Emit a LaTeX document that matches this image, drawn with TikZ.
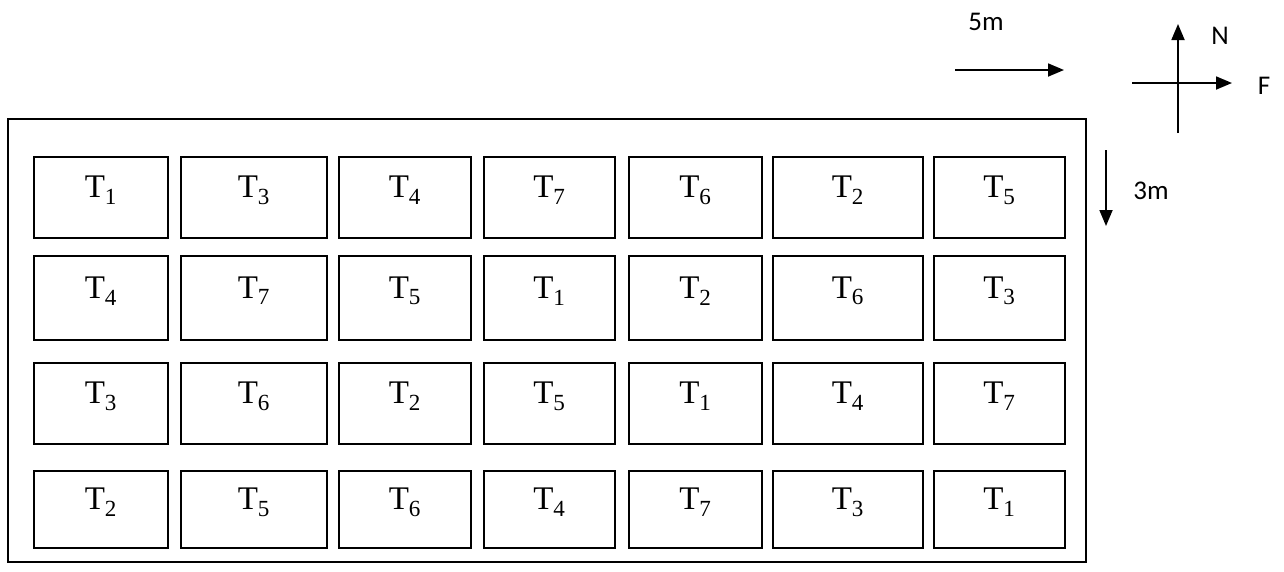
\documentclass[tikz,border=0pt]{standalone}
\usepackage{fontspec}
\setmainfont{Liberation Serif}
\newfontfamily\labfont{Carlito}
\usetikzlibrary{arrows.meta}
\begin{document}
\begin{tikzpicture}[x=1pt,y=-1pt,
  cell/.style={draw,line width=1.8pt,inner sep=0pt,anchor=north west},
  tlab/.style={font=\fontsize{33}{36}\selectfont,inner sep=0pt},
  lab/.style={font=\labfont\fontsize{27}{30}\selectfont,inner sep=0pt},
  arr/.style={line width=1.8pt,-{Triangle[length=16pt,width=13pt]}}]
\useasboundingbox (0,0) rectangle (1284,571);
\draw[line width=1.8pt] (8,119) rectangle (1086,562);
% columns
\def\colL{{33,180,338,483,628,772,933}}
\def\colR{{167,326,470,614,761,922,1064}}
\def\rowT{{156,255,362,470}}
\def\rowB{{237,339,443,547}}
\foreach \r/\labs in {0/{1,3,4,7,6,2,5},1/{4,7,5,1,2,6,3},2/{3,6,2,5,1,4,7},3/{2,5,6,4,7,3,1}}{
  \foreach \t [count=\c from 0] in \labs {
    \pgfmathsetmacro\xl{\colL[\c]}
    \pgfmathsetmacro\xr{\colR[\c]}
    \pgfmathsetmacro\yt{\rowT[\r]}
    \pgfmathsetmacro\yb{\rowB[\r]}
    \pgfmathsetmacro\w{\xr-\xl}
    \pgfmathsetmacro\h{\yb-\yt}
    \node[cell,minimum width=\w pt,minimum height=\h pt] (c\r\c) at (\xl,\yt) {};
    \node[tlab] (t\r\c) at ([yshift=7pt]c\r\c.center) {T\textsubscript{\t}};
  }
}
% scale arrows
\coordinate (a5s) at (955,70);
\coordinate (a5e) at (1064,70);
\draw[arr] (a5s) -- (a5e);
\node[lab] (l5) at (986,22) {5m};
\coordinate (a3s) at (1106,150);
\coordinate (a3e) at (1106,226);
\draw[arr] (a3s) -- (a3e);
\node[lab] (l3) at (1151,191) {3m};
% compass
\coordinate (cs) at (1178,133);
\coordinate (cn) at (1178,24);
\coordinate (cw) at (1132,83);
\coordinate (ce) at (1232,83);
\draw[arr] (cs) -- (cn);
\draw[arr] (cw) -- (ce);
\node[lab] (ln) at (1220,36) {N};
\node[lab] (lf) at (1264,86) {F};
\end{tikzpicture}
\end{document}
